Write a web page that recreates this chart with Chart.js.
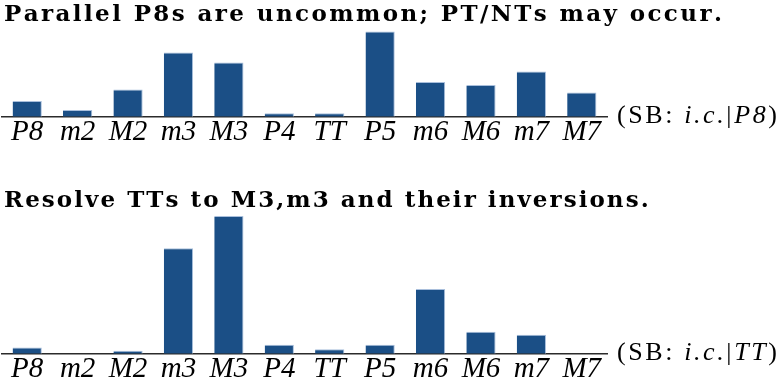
<!DOCTYPE html>
<html>
<head>
<meta charset="utf-8">
<script src="https://cdn.jsdelivr.net/npm/chart.js@4.4.1/dist/chart.umd.min.js"></script>
<style>
  html, body { margin: 0; padding: 0; background: #fff; }
  #wrap { position: relative; width: 780px; height: 384px; overflow: hidden; }
  .box { position: absolute; left: 0; width: 780px; }
</style>
</head>
<body>
<div id="wrap">
  <div class="box" style="top:0;height:176px"><canvas id="topChart"></canvas></div>
  <div class="box" style="top:176px;height:208px"><canvas id="bottomChart"></canvas></div>
</div>
<script>
// interval classes on the x axis
var intervals = ["P8", "m2", "M2", "m3", "M3", "P4", "TT", "P5", "m6", "M6", "m7", "M7"];

// share (%) of each interval class, given the bass interval P8
var afterP8 = [4.0, 1.7, 6.9, 16.2, 13.7, 0.9, 0.9, 21.5, 8.8, 8.0, 11.4, 6.1];

// share (%) of each interval class, given the bass interval TT
var afterTT = [1.7, 0, 0.8, 27.7, 36.2, 2.4, 1.2, 2.4, 17.0, 5.8, 5.0, 0];

var titles = ["Parallel P8s are uncommon; PT/NTs may occur.", "Resolve TTs to M3,m3 and their inversions."];
var notes = [
    [["(SB: ", false], ["i.c.", true], ["|", false], ["P8", true], [")", false]],
    [["(SB: ", false], ["i.c.", true], ["|", false], ["TT", true], [")", false]]
];

var barColor = "#1b4f86";
var serif = "'Liberation Serif'";
var titleFont = "bold 23px 'DejaVu Serif'";

// draws text one char at a time so it can be spread out a bit, returns new x
function spacedText(ctx, str, x, y, gap) {
    for (var i = 0; i < str.length; i++) {
        ctx.fillText(str[i], x, y);
        x += ctx.measureText(str[i]).width + gap;
    }
    return x;
}

// title above the bars and the little note at the right end of the axis
var textPlugin = {
    id: "texts",
    afterDraw: function (chart) {
        var o = chart.options.plugins.texts;
        var ctx = chart.ctx;
        ctx.save();
        ctx.fillStyle = "#000";
        ctx.textAlign = "left";
        ctx.textBaseline = "alphabetic";
        ctx.font = titleFont;
        spacedText(ctx, o.title, 4, o.titleY, o.titleGap);

        var x = chart.chartArea.right + 10;
        var y = chart.chartArea.bottom + 6;
        for (var i = 0; i < o.note.length; i++) {
            ctx.font = (o.note[i][1] ? "italic " : "") + "26px " + serif;
            x = spacedText(ctx, o.note[i][0], x, y, 2.6);
        }
        ctx.restore();
    }
};

function makeChart(id, values, yMax, texts, padTop, padBottom) {
    var el = document.getElementById(id);
    return new Chart(el, {
        type: "bar",
        data: {
            labels: intervals,
            datasets: [{
                data: values,
                backgroundColor: barColor,
                borderColor: "#a9bfdc",
                borderWidth: {top: 1, right: 1, left: 0, bottom: 0},
                categoryPercentage: 1,
                barPercentage: 0.58
            }]
        },
        options: {
            responsive: true,
            maintainAspectRatio: false,
            animation: false,
            layout: {
                padding: {top: padTop, left: 2, right: 173, bottom: padBottom}
            },
            plugins: {
                legend: {display: false},
                tooltip: {enabled: false},
                texts: texts
            },
            scales: {
                x: {
                    grid: {display: false, drawTicks: false},
                    border: {display: true, color: "#2b2b2b", width: 1.6},
                    ticks: {
                        color: "#000",
                        autoSkip: false,
                        maxRotation: 0,
                        padding: 1,
                        font: {family: serif, style: "italic", size: 29, lineHeight: 0.97}
                    }
                },
                y: {
                    display: false,
                    min: 0,
                    max: yMax
                }
            }
        },
        plugins: [textPlugin]
    });
}

function initCharts() {
    makeChart("topChart", afterP8, 21.6,
        {title: titles[0], note: notes[0], titleY: 21, titleGap: 2.4}, 31, 29);
    makeChart("bottomChart", afterTT, 36.2,
        {title: titles[1], note: notes[1], titleY: 30.5, titleGap: 2.05}, 40, 0);
}

function start() {
    Promise.all([
        document.fonts.load(titleFont),
        document.fonts.load("26px " + serif),
        document.fonts.load("italic 29px " + serif)
    ]).then(initCharts, initCharts);
}

document.addEventListener("DOMContentLoaded", start);
</script>
</body>
</html>
